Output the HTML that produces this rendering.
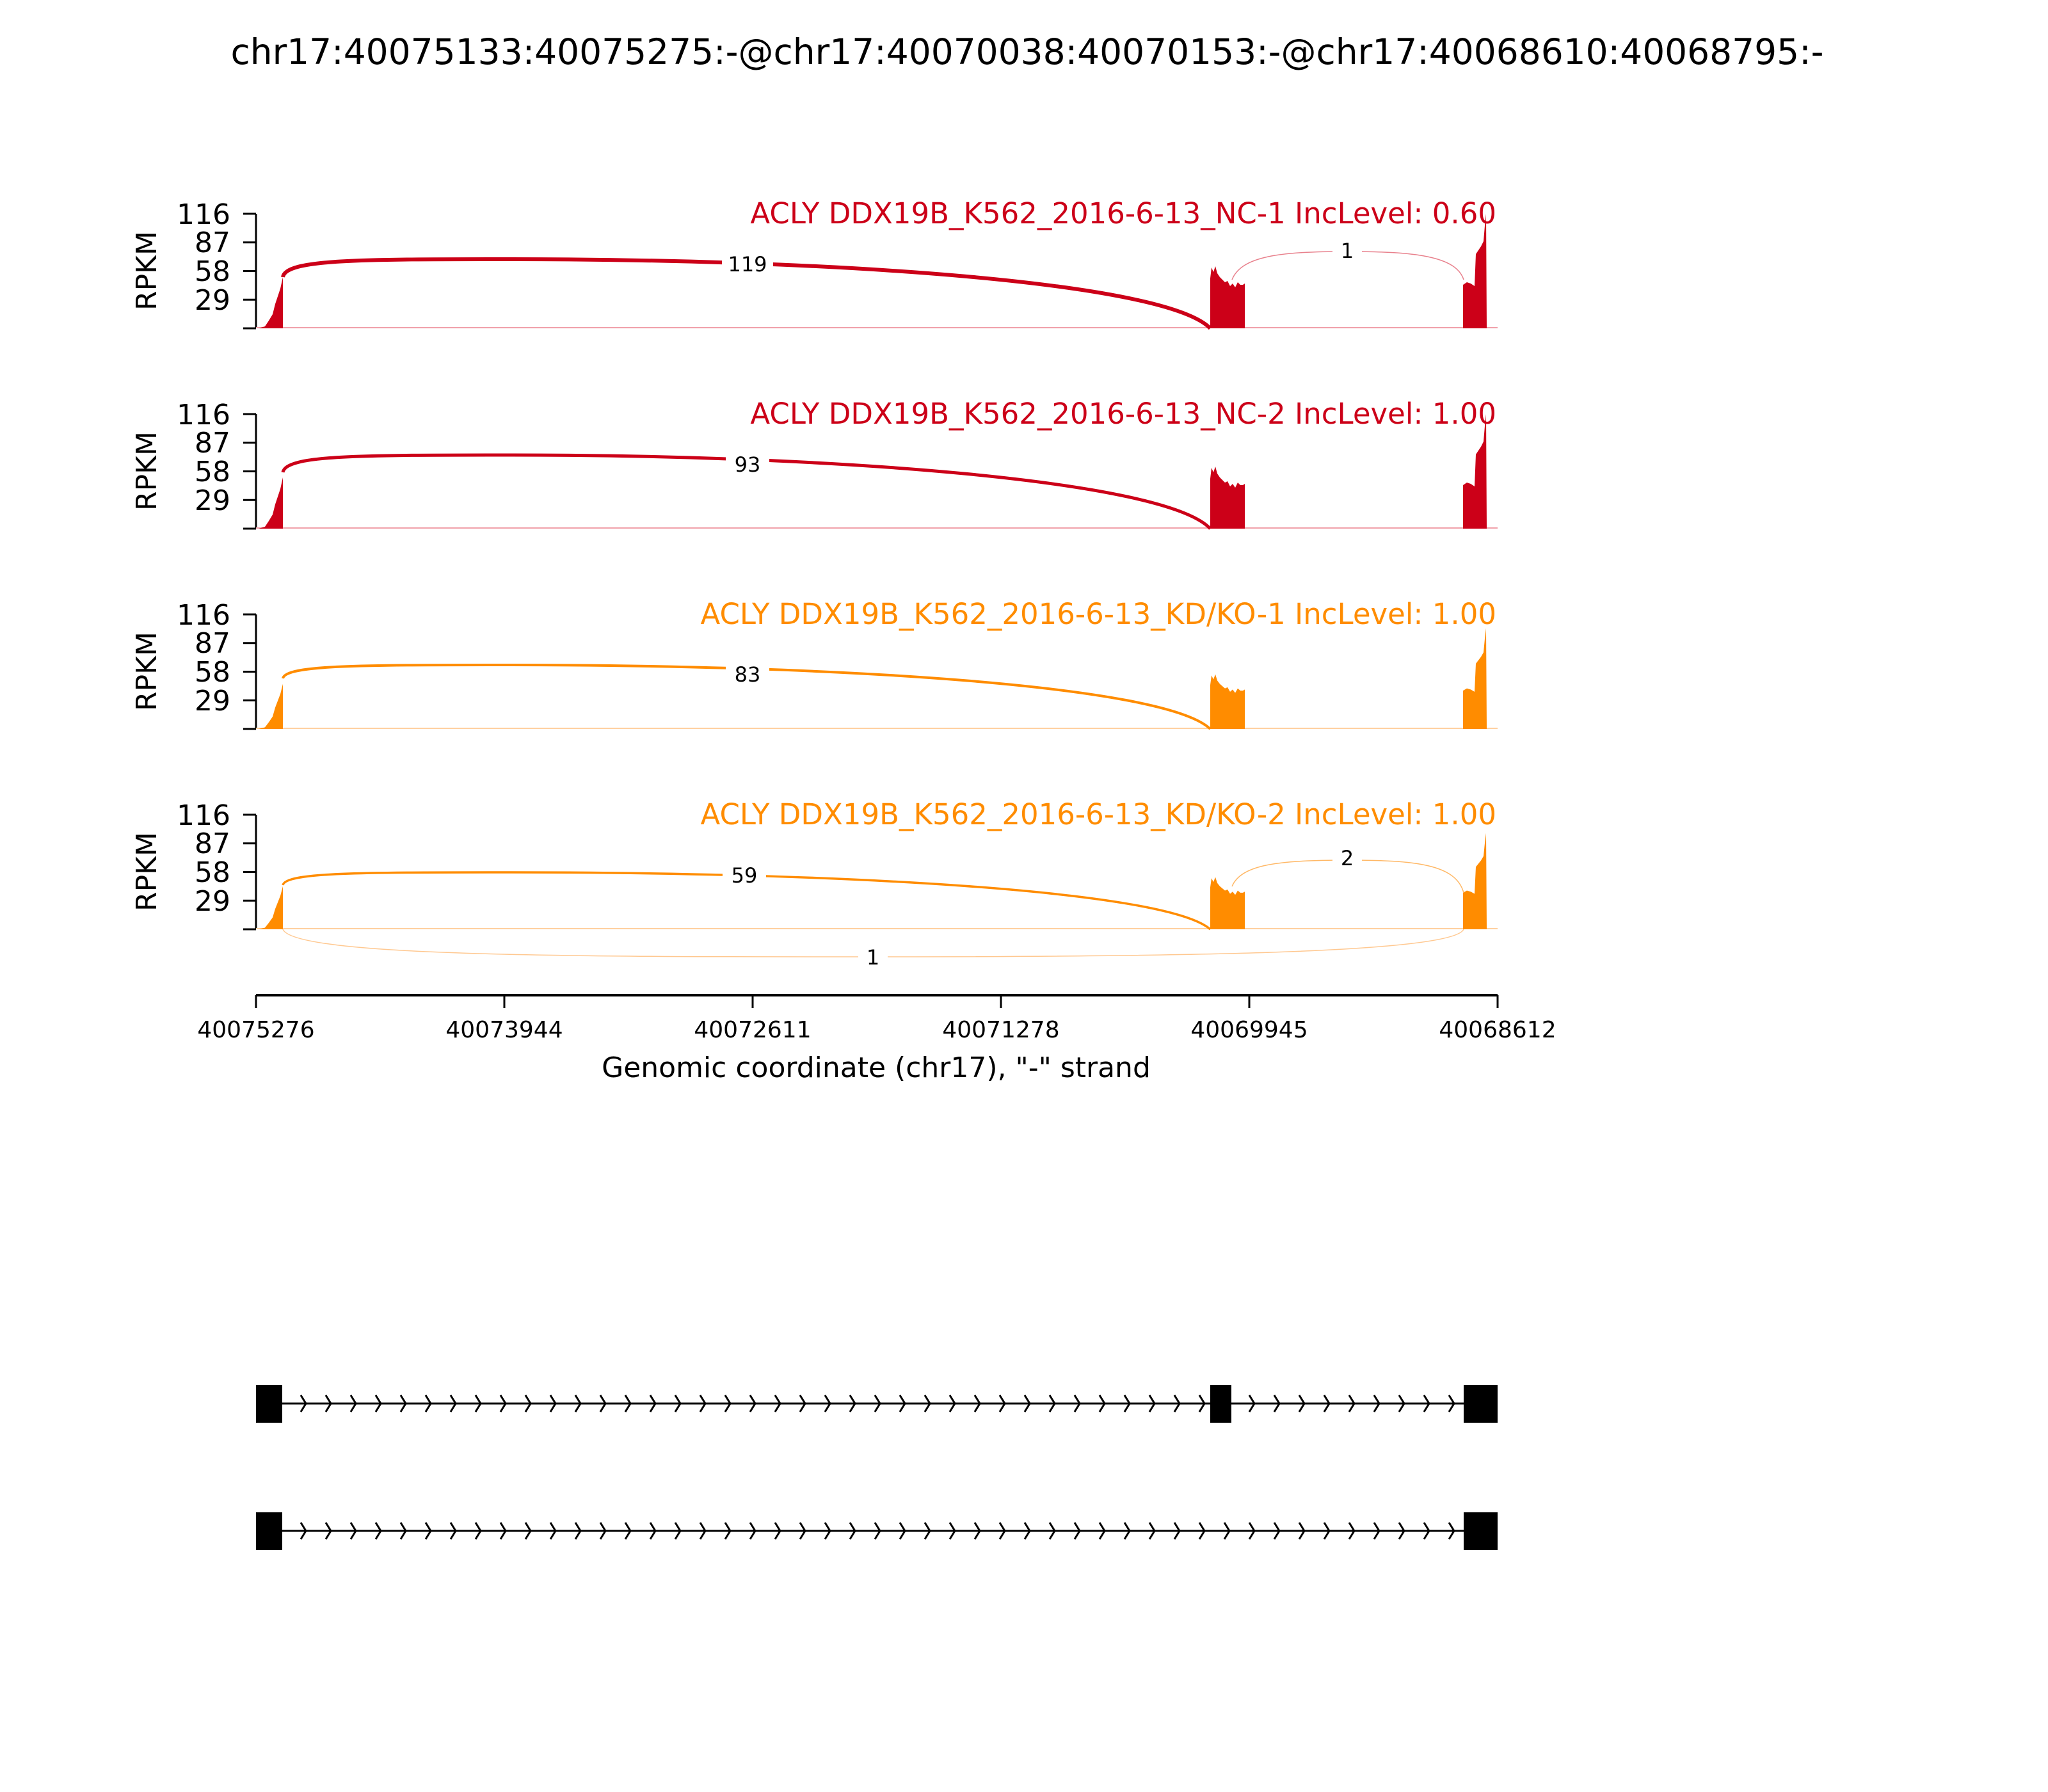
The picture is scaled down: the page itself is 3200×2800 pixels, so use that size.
<!DOCTYPE html>
<html><head><meta charset="utf-8"><style>html,body{margin:0;padding:0;background:#fff}svg{display:block}text{font-family:"DejaVu Sans","Liberation Sans",sans-serif}</style></head>
<body>
<svg width="3200" height="2800" viewBox="0 0 3200 2800" xmlns="http://www.w3.org/2000/svg">
<rect width="3200" height="2800" fill="#fff"/>
<text x="1605" y="100" font-size="55" text-anchor="middle">chr17:40075133:40075275:-@chr17:40070038:40070153:-@chr17:40068610:40068795:-</text>

<defs>
<g id="cov">
<polygon points="404,0 414,-3 420,-12 426,-22 430,-38 434,-50 438,-62 442,-80 442,0"/>
<polygon points="1891,0 1891,-78 1893,-95 1896,-88 1899,-97 1902,-86 1906,-80 1910,-76 1914,-72 1918,-74 1922,-66 1926,-70 1930,-64 1934,-72 1938,-68 1942,-68 1945,-70 1945,0"/>
<polygon points="2286,0 2286,-68 2292,-72 2298,-70 2304,-66 2306,-116 2310,-122 2314,-128 2318,-136 2320,-160 2322,-179 2323,0"/>
</g>
<path id="chev" d="M0,-13 L8,0 L0,13" fill="none" stroke="#000" stroke-width="3"/>
</defs>

<g stroke="#000" stroke-width="3" fill="none">
<path d="M400,334 V513 M380,334 H400 M380,378.75 H400 M380,423.5 H400 M380,468.25 H400 M380,513 H400"/>
<path d="M400,647 V826 M380,647 H400 M380,691.75 H400 M380,736.5 H400 M380,781.25 H400 M380,826 H400"/>
<path d="M400,960 V1139 M380,960 H400 M380,1004.75 H400 M380,1049.5 H400 M380,1094.25 H400 M380,1139 H400"/>
<path d="M400,1273 V1452 M380,1273 H400 M380,1317.75 H400 M380,1362.5 H400 M380,1407.25 H400 M380,1452 H400"/>
</g>
<g font-size="44" text-anchor="end">
<text x="360" y="350">116</text><text x="360" y="394">87</text><text x="360" y="439">58</text><text x="360" y="484">29</text>
<text x="360" y="663">116</text><text x="360" y="707">87</text><text x="360" y="752">58</text><text x="360" y="797">29</text>
<text x="360" y="976">116</text><text x="360" y="1020">87</text><text x="360" y="1065">58</text><text x="360" y="1110">29</text>
<text x="360" y="1289">116</text><text x="360" y="1333">87</text><text x="360" y="1378">58</text><text x="360" y="1423">29</text>
</g>
<g font-size="44" text-anchor="middle">
<text transform="translate(244,423) rotate(-90)">RPKM</text>
<text transform="translate(244,736) rotate(-90)">RPKM</text>
<text transform="translate(244,1049) rotate(-90)">RPKM</text>
<text transform="translate(244,1362) rotate(-90)">RPKM</text>
</g>

<!-- panel 1 -->
<line x1="400" y1="512" x2="2340" y2="512" stroke="#f0a0aa" stroke-width="2"/>
<g fill="#cc0018"><use href="#cov" transform="translate(0,513)"/></g>
<path d="M442,433 C446,405 560,405 800,405 C1300,405 1820,440 1891,513" fill="none" stroke="#cc0018" stroke-width="6"/>
<path d="M1925,437 C1940,400 2000,393 2105,393 C2210,393 2275,400 2287,437" fill="none" stroke="#e8808c" stroke-width="1.5"/>
<rect x="1128" y="391" width="80" height="42" fill="#fff"/><text x="1168" y="424" font-size="32" text-anchor="middle">119</text>
<rect x="2082" y="370" width="46" height="42" fill="#fff"/><text x="2105" y="403" font-size="32" text-anchor="middle">1</text>
<text x="2338" y="349" font-size="45" text-anchor="end" fill="#cc0018">ACLY DDX19B_K562_2016-6-13_NC-1 IncLevel: 0.60</text>

<!-- panel 2 -->
<line x1="400" y1="825" x2="2340" y2="825" stroke="#f0a0aa" stroke-width="2"/>
<g fill="#cc0018"><use href="#cov" transform="translate(0,826)"/></g>
<path d="M442,738 C446,711 560,711 800,711 C1300,711 1820,750 1891,826" fill="none" stroke="#cc0018" stroke-width="5"/>
<rect x="1134" y="704" width="68" height="42" fill="#fff"/><text x="1168" y="737" font-size="32" text-anchor="middle">93</text>
<text x="2338" y="662" font-size="45" text-anchor="end" fill="#cc0018">ACLY DDX19B_K562_2016-6-13_NC-2 IncLevel: 1.00</text>

<!-- panel 3 -->
<line x1="400" y1="1138" x2="2340" y2="1138" stroke="#ffd0a0" stroke-width="2"/>
<g fill="#ff8c00"><use href="#cov" transform="translate(0,1139) scale(1,0.88)"/></g>
<path d="M442,1060 C446,1039 560,1039 800,1039 C1300,1039 1820,1070 1891,1139" fill="none" stroke="#ff8c00" stroke-width="4"/>
<rect x="1134" y="1032" width="68" height="42" fill="#fff"/><text x="1168" y="1065" font-size="32" text-anchor="middle">83</text>
<text x="2338" y="975" font-size="45" text-anchor="end" fill="#ff8c00">ACLY DDX19B_K562_2016-6-13_KD/KO-1 IncLevel: 1.00</text>

<!-- panel 4 -->
<line x1="400" y1="1451" x2="2340" y2="1451" stroke="#ffd0a0" stroke-width="2"/>
<g fill="#ff8c00"><use href="#cov" transform="translate(0,1452) scale(1,0.84)"/></g>
<path d="M442,1383 C446,1363 560,1363 800,1363 C1300,1363 1820,1390 1891,1452" fill="none" stroke="#ff8c00" stroke-width="3.5"/>
<path d="M1925,1385 C1940,1350 2000,1344 2105,1344 C2210,1344 2275,1350 2287,1395" fill="none" stroke="#ffb866" stroke-width="1.5"/>
<path d="M442,1452 C460,1495 900,1495 1364,1495 C1830,1495 2270,1490 2287,1452" fill="none" stroke="#ffc890" stroke-width="1.5"/>
<rect x="1129" y="1346" width="68" height="42" fill="#fff"/><text x="1163" y="1379" font-size="32" text-anchor="middle">59</text>
<rect x="2082" y="1319" width="46" height="42" fill="#fff"/><text x="2105" y="1352" font-size="32" text-anchor="middle">2</text>
<rect x="1341" y="1474" width="46" height="42" fill="#fff"/><text x="1364" y="1507" font-size="32" text-anchor="middle">1</text>
<text x="2338" y="1288" font-size="45" text-anchor="end" fill="#ff8c00">ACLY DDX19B_K562_2016-6-13_KD/KO-2 IncLevel: 1.00</text>

<!-- x axis -->
<g stroke="#000" stroke-width="3">
<line x1="400" y1="1555" x2="2340" y2="1555" stroke-width="4"/>
<line x1="400" y1="1555" x2="400" y2="1575"/><line x1="788" y1="1555" x2="788" y2="1575"/>
<line x1="1176" y1="1555" x2="1176" y2="1575"/><line x1="1564" y1="1555" x2="1564" y2="1575"/>
<line x1="1952" y1="1555" x2="1952" y2="1575"/><line x1="2340" y1="1555" x2="2340" y2="1575"/>
</g>
<g font-size="36" text-anchor="middle">
<text x="400" y="1621">40075276</text><text x="788" y="1621">40073944</text><text x="1176" y="1621">40072611</text>
<text x="1564" y="1621">40071278</text><text x="1952" y="1621">40069945</text><text x="2340" y="1621">40068612</text>
</g>
<text x="1369" y="1683" font-size="44" text-anchor="middle">Genomic coordinate (chr17), "-" strand</text>

<!-- gene tracks -->
<line x1="441" y1="2193" x2="2287" y2="2193" stroke="#000" stroke-width="3"/>
<rect x="400" y="2164" width="41" height="59"/><rect x="1891" y="2164" width="33" height="59"/><rect x="2287" y="2164" width="53" height="59"/>
<line x1="441" y1="2392" x2="2287" y2="2392" stroke="#000" stroke-width="3"/>
<rect x="400" y="2363" width="41" height="59"/><rect x="2287" y="2363" width="53" height="59"/>
<g>
<use href="#chev" x="470" y="2193"/><use href="#chev" x="509" y="2193"/><use href="#chev" x="548" y="2193"/><use href="#chev" x="587" y="2193"/><use href="#chev" x="626" y="2193"/><use href="#chev" x="665" y="2193"/><use href="#chev" x="704" y="2193"/><use href="#chev" x="743" y="2193"/><use href="#chev" x="782" y="2193"/><use href="#chev" x="821" y="2193"/><use href="#chev" x="860" y="2193"/><use href="#chev" x="899" y="2193"/><use href="#chev" x="938" y="2193"/><use href="#chev" x="977" y="2193"/><use href="#chev" x="1016" y="2193"/><use href="#chev" x="1055" y="2193"/><use href="#chev" x="1094" y="2193"/><use href="#chev" x="1133" y="2193"/><use href="#chev" x="1172" y="2193"/><use href="#chev" x="1211" y="2193"/><use href="#chev" x="1250" y="2193"/><use href="#chev" x="1289" y="2193"/><use href="#chev" x="1328" y="2193"/><use href="#chev" x="1367" y="2193"/><use href="#chev" x="1406" y="2193"/><use href="#chev" x="1445" y="2193"/><use href="#chev" x="1484" y="2193"/><use href="#chev" x="1523" y="2193"/><use href="#chev" x="1562" y="2193"/><use href="#chev" x="1601" y="2193"/><use href="#chev" x="1640" y="2193"/><use href="#chev" x="1679" y="2193"/><use href="#chev" x="1718" y="2193"/><use href="#chev" x="1757" y="2193"/><use href="#chev" x="1796" y="2193"/><use href="#chev" x="1835" y="2193"/><use href="#chev" x="1874" y="2193"/>
<use href="#chev" x="1952" y="2193"/><use href="#chev" x="1991" y="2193"/><use href="#chev" x="2030" y="2193"/><use href="#chev" x="2069" y="2193"/><use href="#chev" x="2108" y="2193"/><use href="#chev" x="2147" y="2193"/><use href="#chev" x="2186" y="2193"/><use href="#chev" x="2225" y="2193"/><use href="#chev" x="2264" y="2193"/>
<use href="#chev" x="470" y="2392"/><use href="#chev" x="509" y="2392"/><use href="#chev" x="548" y="2392"/><use href="#chev" x="587" y="2392"/><use href="#chev" x="626" y="2392"/><use href="#chev" x="665" y="2392"/><use href="#chev" x="704" y="2392"/><use href="#chev" x="743" y="2392"/><use href="#chev" x="782" y="2392"/><use href="#chev" x="821" y="2392"/><use href="#chev" x="860" y="2392"/><use href="#chev" x="899" y="2392"/><use href="#chev" x="938" y="2392"/><use href="#chev" x="977" y="2392"/><use href="#chev" x="1016" y="2392"/><use href="#chev" x="1055" y="2392"/><use href="#chev" x="1094" y="2392"/><use href="#chev" x="1133" y="2392"/><use href="#chev" x="1172" y="2392"/><use href="#chev" x="1211" y="2392"/><use href="#chev" x="1250" y="2392"/><use href="#chev" x="1289" y="2392"/><use href="#chev" x="1328" y="2392"/><use href="#chev" x="1367" y="2392"/><use href="#chev" x="1406" y="2392"/><use href="#chev" x="1445" y="2392"/><use href="#chev" x="1484" y="2392"/><use href="#chev" x="1523" y="2392"/><use href="#chev" x="1562" y="2392"/><use href="#chev" x="1601" y="2392"/><use href="#chev" x="1640" y="2392"/><use href="#chev" x="1679" y="2392"/><use href="#chev" x="1718" y="2392"/><use href="#chev" x="1757" y="2392"/><use href="#chev" x="1796" y="2392"/><use href="#chev" x="1835" y="2392"/><use href="#chev" x="1874" y="2392"/><use href="#chev" x="1913" y="2392"/><use href="#chev" x="1952" y="2392"/><use href="#chev" x="1991" y="2392"/><use href="#chev" x="2030" y="2392"/><use href="#chev" x="2069" y="2392"/><use href="#chev" x="2108" y="2392"/><use href="#chev" x="2147" y="2392"/><use href="#chev" x="2186" y="2392"/><use href="#chev" x="2225" y="2392"/><use href="#chev" x="2264" y="2392"/>
</g>
</svg>
</body></html>
